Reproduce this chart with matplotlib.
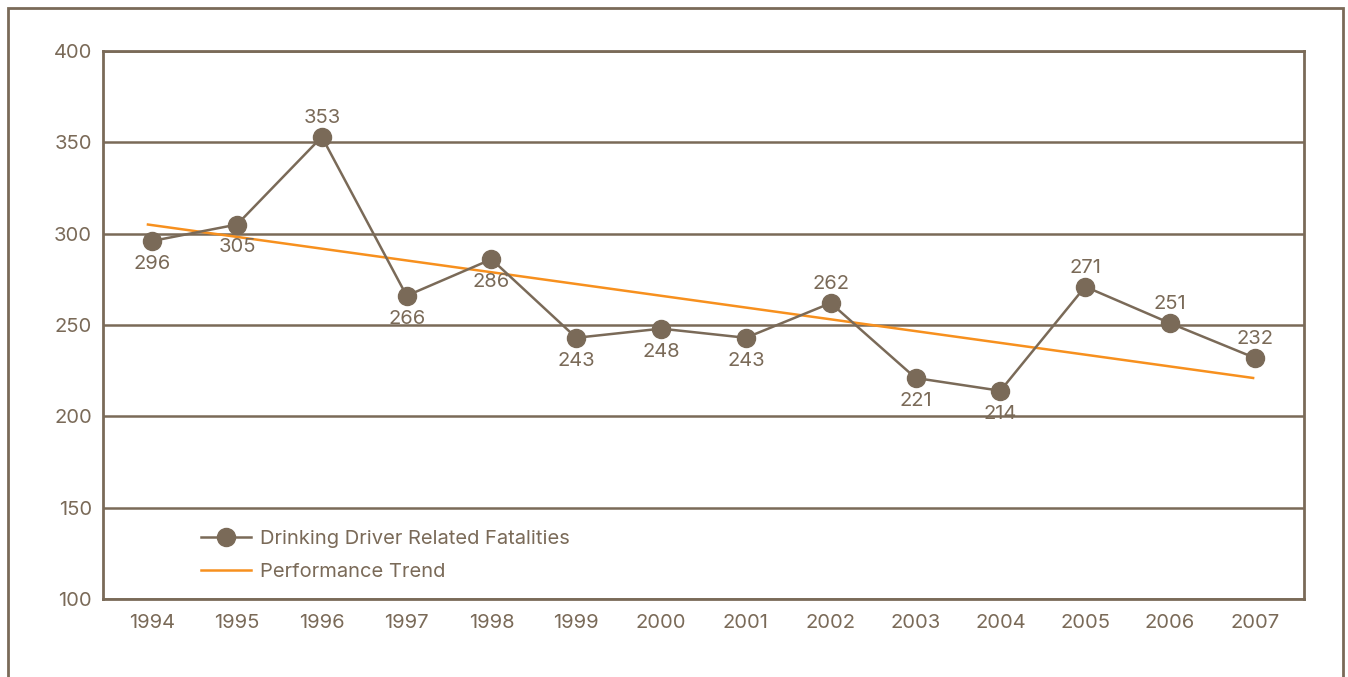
import matplotlib
matplotlib.use("Agg")
import matplotlib.pyplot as plt
from matplotlib.patches import Rectangle

years = ["1994", "1995", "1996", "1997", "1998", "1999", "2000",
         "2001", "2002", "2003", "2004", "2005", "2006", "2007"]
fatalities = [296, 305, 353, 266, 286, 243, 248, 243, 262, 221, 214, 271, 251, 232]
label_above = [False, False, True, False, False, False, False,
               False, True, False, False, True, True, True]
trend_years = ["1994", "2007"]
trend_values = [305, 221]
y_ticks = [100, 150, 200, 250, 300, 350, 400]

BROWN = "#7a6a58"
ORANGE = "#f7901e"
FS = 14.5

plt.rcParams['font.family'] = ['Inter', 'DejaVu Sans']

fig = plt.figure(figsize=(13.48, 6.77), dpi=100)
W, H = 1348, 677
ax = fig.add_axes([103 / W, 1 - 599 / H, (1304 - 103) / W, (599 - 51) / H])

x = list(range(len(years)))
tx = [years.index(t) for t in trend_years]

ax.plot(x, fatalities, color=BROWN, lw=1.8, marker="o", ms=13,
        mfc=BROWN, mec=BROWN, zorder=4, label="Drinking Driver Related Fatalities")
ax.plot([tx[0] - 0.05, tx[1] - 0.02], trend_values, color=ORANGE, lw=1.8, zorder=3,
        label="Performance Trend")

for xi, v, above in zip(x, fatalities, label_above):
    if above:
        ax.annotate(str(v), (xi, v), xytext=(0, 7), textcoords="offset points",
                    ha="center", va="bottom", fontsize=FS, color=BROWN)
    else:
        ax.annotate(str(v), (xi, v), xytext=(0, -10), textcoords="offset points",
                    ha="center", va="top", fontsize=FS, color=BROWN)

ax.set_xlim(-0.58, len(years) - 1 + 0.58)
ax.set_ylim(100, 400)
ax.set_yticks(y_ticks)
ax.set_xticks(x)
ax.set_xticklabels(years)
ax.tick_params(axis="both", length=0, labelsize=FS, labelcolor=BROWN)
ax.tick_params(axis="y", pad=8)
ax.tick_params(axis="x", pad=11)
ax.yaxis.grid(True, color=BROWN, lw=1.8)
ax.set_axisbelow(True)
for s in ax.spines.values():
    s.set_color(BROWN)
    s.set_linewidth(2)

leg = ax.legend(loc="upper left", bbox_to_anchor=(0.075, 0.14), frameon=False,
                fontsize=FS, handlelength=2.5, handletextpad=0.4,
                labelspacing=0.7, borderaxespad=0)
for t in leg.get_texts():
    t.set_color(BROWN)

# outer frame
fig.add_artist(Rectangle((8 / W, -0.05), (1343 - 8) / W, 1.05 - 8 / H,
                         transform=fig.transFigure, fill=False,
                         edgecolor=BROWN, lw=2))

fig.savefig("out.png", dpi=100)
